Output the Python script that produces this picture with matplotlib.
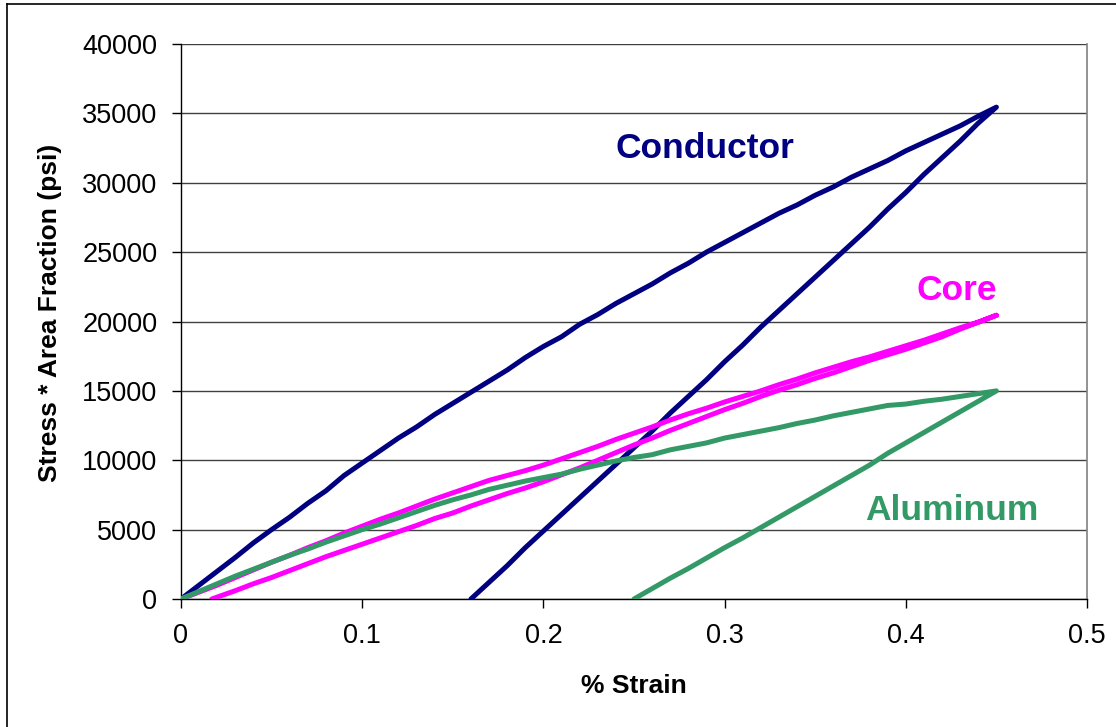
import matplotlib
matplotlib.use('Agg')
import matplotlib.pyplot as plt
from matplotlib.lines import Line2D

plt.rcParams['font.family'] = ['Liberation Sans', 'DejaVu Sans']

# conductor loading / unloading (strain %, stress*area fraction psi)
cond_load_x = [0, 0.01, 0.02, 0.03, 0.04, 0.05, 0.06, 0.07, 0.08, 0.09, 0.10, 0.11, 0.12, 0.13,
               0.14, 0.15, 0.16, 0.17, 0.18, 0.19, 0.20, 0.21, 0.22, 0.23, 0.24, 0.25, 0.26, 0.27,
               0.28, 0.29, 0.30, 0.31, 0.32, 0.33, 0.34, 0.35, 0.36, 0.37, 0.38, 0.39, 0.40, 0.41,
               0.42, 0.43, 0.44, 0.45]
cond_load_y = [0, 1000, 2000, 3000, 4050, 5000, 5900, 6900, 7800, 8900, 9800, 10700, 11600, 12400,
               13300, 14100, 14900, 15700, 16500, 17400, 18200, 18900, 19800, 20500, 21300, 22000,
               22700, 23500, 24200, 25000, 25700, 26400, 27100, 27800, 28400, 29100, 29700, 30400,
               31000, 31600, 32300, 32900, 33500, 34100, 34800, 35450]
cond_unload_x = [0.45, 0.44, 0.43, 0.42, 0.41, 0.40, 0.39, 0.38, 0.37, 0.36, 0.35, 0.34, 0.33, 0.32,
                 0.31, 0.30, 0.29, 0.28, 0.27, 0.26, 0.25, 0.24, 0.23, 0.22, 0.21, 0.20, 0.19, 0.18,
                 0.17, 0.16]
cond_unload_y = [35450, 34300, 33000, 31800, 30600, 29300, 28100, 26800, 25600, 24400, 23200, 22000,
                 20800, 19600, 18300, 17100, 15800, 14600, 13400, 12100, 10900, 9700, 8500, 7300,
                 6100, 4900, 3700, 2400, 1200, 0]

# core
core_load_x = cond_load_x
core_load_y = [0, 500, 1000, 1550, 2100, 2650, 3150, 3700, 4200, 4750, 5250, 5750, 6200, 6700, 7200,
               7650, 8100, 8550, 8900, 9250, 9650, 10100, 10550, 11000, 11500, 11950, 12400, 12900,
               13350, 13750, 14200, 14600, 15000, 15450, 15850, 16300, 16700, 17100, 17450, 17850,
               18250, 18650, 19100, 19550, 19950, 20450]
core_unload_x = [0.45, 0.44, 0.43, 0.42, 0.41, 0.40, 0.39, 0.38, 0.37, 0.36, 0.35, 0.34, 0.33, 0.32,
                 0.31, 0.30, 0.29, 0.28, 0.27, 0.26, 0.25, 0.24, 0.23, 0.22, 0.21, 0.20, 0.19, 0.18,
                 0.17, 0.16, 0.15, 0.14, 0.13, 0.12, 0.11, 0.10, 0.09, 0.08, 0.07, 0.06, 0.05, 0.04,
                 0.03, 0.017]
core_unload_y = [20450, 19950, 19450, 18900, 18450, 18000, 17600, 17200, 16750, 16300, 15900, 15450,
                 15050, 14600, 14100, 13650, 13150, 12650, 12150, 11600, 11100, 10550, 10000, 9450,
                 8950, 8450, 8000, 7600, 7150, 6700, 6200, 5800, 5300, 4850, 4400, 3950, 3500, 3050,
                 2550, 2050, 1550, 1100, 600, 0]

# aluminum
alu_load_x = cond_load_x
alu_load_y = [0, 550, 1100, 1650, 2150, 2650, 3150, 3600, 4100, 4550, 5000, 5400, 5850, 6300, 6750,
              7150, 7500, 7900, 8200, 8500, 8750, 9000, 9350, 9650, 9950, 10200, 10400, 10750, 11000,
              11250, 11600, 11850, 12100, 12350, 12650, 12900, 13200, 13450, 13700, 13950, 14050,
              14250, 14400, 14600, 14800, 15000]
alu_unload_x = [0.45, 0.44, 0.43, 0.42, 0.41, 0.40, 0.39, 0.38, 0.37, 0.36, 0.35, 0.34, 0.33, 0.32,
                0.31, 0.30, 0.29, 0.28, 0.27, 0.26, 0.25]
alu_unload_y = [15000, 14250, 13500, 12750, 12000, 11250, 10500, 9650, 8900, 8150, 7400, 6650, 5900,
                5150, 4400, 3700, 2950, 2200, 1500, 750, 0]

navy = '#000080'
magenta = '#FF00FF'
green = '#339966'

fig = plt.figure(figsize=(11.16, 7.27), dpi=100)
ax = fig.add_axes([181/1116, 1 - 599/727, 906/1116, 555/727])

lw = 3.6
ax.plot(cond_load_x + cond_unload_x, cond_load_y + cond_unload_y, color=navy, lw=lw,
        solid_joinstyle='round', solid_capstyle='round', zorder=3)
ax.plot(core_load_x + core_unload_x, core_load_y + core_unload_y, color=magenta, lw=lw,
        solid_joinstyle='round', solid_capstyle='round', zorder=3)
ax.plot(alu_load_x + alu_unload_x, alu_load_y + alu_unload_y, color=green, lw=lw,
        solid_joinstyle='round', solid_capstyle='round', zorder=3)

ax.set_xlim(0, 0.5)
ax.set_ylim(0, 40000)
ax.set_xticks([0, 0.1, 0.2, 0.3, 0.4, 0.5])
ax.set_xticklabels(['0', '0.1', '0.2', '0.3', '0.4', '0.5'])
ax.set_yticks(range(0, 40001, 5000))
ax.grid(axis='y', color='#404040', lw=1.0)
ax.set_axisbelow(True)

ax.spines['top'].set_visible(False)
ax.spines['right'].set_color('#808080')
ax.spines['right'].set_linewidth(1.2)
ax.spines['left'].set_linewidth(1.0)
ax.spines['bottom'].set_linewidth(1.0)

ax.tick_params(axis='y', direction='out', length=6.5, width=1, labelsize=19.5, pad=10.5)
ax.tick_params(axis='x', direction='out', length=6.5, width=1, labelsize=19.5, pad=11)

ax.set_xlabel('% Strain', fontsize=19, fontweight='bold')
ax.xaxis.set_label_coords(0.5, -0.157)
ax.xaxis.label.set_va('center')
ax.set_ylabel('Stress * Area Fraction (psi)', fontsize=19, fontweight='bold')
ax.yaxis.set_label_coords(-0.145, 0.515)
ax.yaxis.label.set_va('center')

ax.text(0.289, 32500, 'Conductor', color=navy, fontsize=25.5, fontweight='bold',
        ha='center', va='center')
ax.text(0.428, 22200, 'Core', color=magenta, fontsize=25.5, fontweight='bold',
        ha='center', va='center')
ax.text(0.4255, 6400, 'Aluminum', color=green, fontsize=25.5, fontweight='bold',
        ha='center', va='center')

# outer chart border (only left and top show in the crop)
fig.add_artist(Line2D([7/1116, 7/1116], [0, 1 - 4/727], color='black', lw=1.2,
                      transform=fig.transFigure))
fig.add_artist(Line2D([7/1116, 1], [1 - 4/727, 1 - 4/727], color='black', lw=1.2,
                      transform=fig.transFigure))

fig.savefig('out.png', dpi=100)
